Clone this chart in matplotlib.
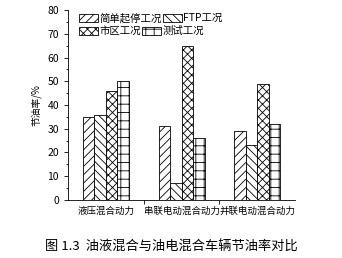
import matplotlib
matplotlib.use('Agg')
import matplotlib.pyplot as plt
import numpy as np

plt.rcParams['font.family'] = ['Noto Sans CJK SC', 'DejaVu Sans']
plt.rcParams['hatch.linewidth'] = 0.6

groups = ['液压混合动力', '串联电动混合动力', '并联电动混合动力']
series = ['简单起停工况', 'FTP工况', '市区工况', '测试工况']
simple_stop = [35, 31, 29]
ftp = [36, 7, 23]
urban = [46, 65, 49]
test = [50, 26, 32]
hatches = ['////', '\\\\\\\\', 'xxxx', '++']

fig = plt.figure(figsize=(3.42, 2.58), dpi=100)
ax = fig.add_axes([0.199, 0.225, 0.664, 0.736])

x = np.arange(len(groups)) + 0.5
w = 0.152
handles = []
for i, (vals, h, name) in enumerate(zip([simple_stop, ftp, urban, test], hatches, series)):
    b = ax.bar(x + (i - 1.5) * w, vals, w, facecolor='white', edgecolor='black',
               linewidth=0.6, hatch=h, label=name)
    handles.append(b)

ax.set_xlim(0, 3)
ax.set_ylim(0, 80)
ax.set_yticks(range(0, 81, 10))
ax.set_yticks(range(5, 80, 10), minor=True)
ax.set_xticks([1, 2])
ax.set_xticklabels([])
ax.set_xticks(x, minor=True)
ax.set_xticklabels(groups, minor=True, fontsize=6.8)
ax.tick_params(axis='x', which='minor', length=0, pad=5)
ax.tick_params(axis='x', which='major', length=3, width=0.6)
ax.tick_params(axis='y', which='major', length=3, width=0.6, labelsize=7.5)
ax.tick_params(axis='y', which='minor', length=1.5, width=0.6)
ax.spines['top'].set_visible(False)
ax.spines['right'].set_visible(False)
for s in ['left', 'bottom']:
    ax.spines[s].set_linewidth(0.6)
ax.set_ylabel('节油率/%', fontsize=7)

# legend is laid out as two free-flowing rows
leg_kw = dict(ncol=2, frameon=False, fontsize=7.5, loc='center left',
              handlelength=1.8, handleheight=0.8, columnspacing=0.15,
              handletextpad=0.15, borderaxespad=0, borderpad=0)
leg1 = ax.legend(handles[0:2], series[0:2], bbox_to_anchor=(0.048, 0.958), **leg_kw)
ax.add_artist(leg1)
ax.legend(handles[2:4], series[2:4], bbox_to_anchor=(0.048, 0.889), **leg_kw)

fig.text(0.5, 0.03, '图 1.3  油液混合与油电混合车辆节油率对比', ha='center', fontsize=9.5)

fig.savefig('out.png', dpi=100)
